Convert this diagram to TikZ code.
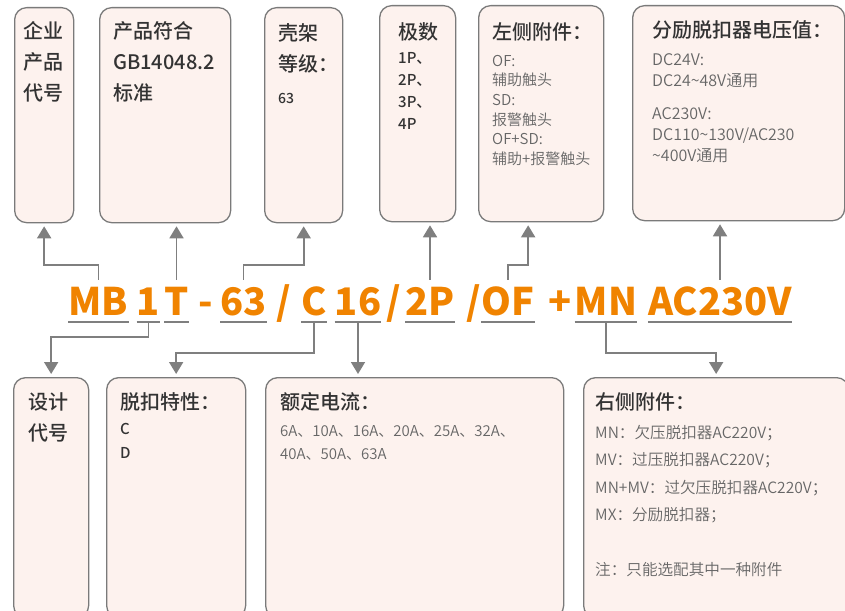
\documentclass[tikz,border=0pt]{standalone}
\usepackage{fontspec}
\setmainfont{Noto Sans CJK SC}[BoldFont={Noto Sans CJK SC Medium}]
\newfontfamily\codefont{Noto Sans CJK SC}
\newfontfamily\lightfont{Noto Sans CJK SC DemiLight}
\usetikzlibrary{arrows.meta}
\definecolor{boxfill}{HTML}{FDF2EE}
\definecolor{boxline}{HTML}{7A7A7A}
\definecolor{linegray}{HTML}{7F7F7F}
\definecolor{titlecol}{HTML}{333333}
\definecolor{detailcol}{HTML}{666666}
\definecolor{codeorange}{HTML}{F08300}
\tikzset{
  box/.style={draw=boxline, fill=boxfill, rounded corners=12pt, line width=1.3pt, anchor=north west, inner sep=0},
  title/.style={anchor=north west, inner sep=0, align=left, text=titlecol, font=\bfseries\fontsize{20}{31}\selectfont},
  detail/.style={anchor=north west, inner sep=0, align=left, text=detailcol, font=\lightfont\fontsize{15}{20}\selectfont},
  darkdetail/.style={anchor=north west, inner sep=0, align=left, text=titlecol},
  code/.style={anchor=base, inner sep=0, text height=35pt, text depth=7pt, text=codeorange, font=\codefont\bfseries\fontsize{38}{38}\selectfont},
  uline/.style={draw=linegray, line width=1.5pt},
  conn/.style={draw=linegray, line width=1.8pt, shorten >=3pt, -{Triangle[length=12pt,width=14pt]}},
}
\begin{document}
\begin{tikzpicture}[x=1pt, y=-1pt]
\useasboundingbox (0,0) rectangle (845,610);
\clip (0,0) rectangle (845,610);

% top boxes
\node[box, minimum width=59pt, minimum height=215pt] (qiye) at (14,7) {};
\node[box, minimum width=131pt, minimum height=215pt] (gb) at (99,7) {};
\node[box, minimum width=78pt, minimum height=215pt] (kejia) at (264,7) {};
\node[box, minimum width=76pt, minimum height=216pt] (jishu) at (379,5) {};
\node[box, minimum width=125pt, minimum height=216pt] (zuoce) at (478,5) {};
\node[box, minimum width=212pt, minimum height=215pt] (fenli) at (632,5) {};

\node[title] (qiyet) at (23,21) {企业\\产品\\代号};
\node[title] (gbt) at (113,21) {产品符合\\GB14048.2\\标准};
\node[title] (kejiat) at (278,23) {壳架\\等级：};
\node[darkdetail, font=\bfseries\fontsize{14}{20}\selectfont] (kejiad) at (278,93) {63};
\node[title] (jishut) at (398,22) {极数};
\node[darkdetail, font=\bfseries\fontsize{15}{22}\selectfont] (jishud) at (398,52) {1P、\\2P、\\3P、\\4P};
\node[title] (zuocet) at (492,22) {左侧附件：};
\node[detail, font=\lightfont\fontsize{15}{19.6}\selectfont] (zuoced) at (492,55) {OF:\\辅助触头\\SD:\\报警触头\\OF+SD:\\辅助+报警触头};
\node[title] (fenlit) at (652,20) {分励脱扣器电压值：};
\node[detail, font=\lightfont\fontsize{16}{21}\selectfont] (fenlid) at (652,53) {DC24V:\\DC24\textasciitilde 48V通用\\[12pt]AC230V:\\DC110\textasciitilde 130V/AC230\\\textasciitilde 400V通用};

% bottom boxes
\node[box, minimum width=75pt, minimum height=240pt] (sheji) at (13,377) {};
\node[box, minimum width=139pt, minimum height=240pt] (tuokou) at (106,377) {};
\node[box, minimum width=298pt, minimum height=240pt] (eding) at (265,377) {};
\node[box, minimum width=265pt, minimum height=240pt] (youce) at (583,377) {};

\node[title] (shejit) at (28,392) {设计\\代号};
\node[title] (tuokout) at (120,392) {脱扣特性：};
\node[darkdetail, font=\bfseries\fontsize{15}{24}\selectfont] (tuokoud) at (120,423) {C\\D};
\node[title] (edingt) at (280,392) {额定电流：};
\node[detail, font=\lightfont\fontsize{15}{23}\selectfont] (edingd) at (280,425) {6A、10A、16A、20A、25A、32A、\\40A、50A、63A};
\node[title] (youcet) at (595,392) {右侧附件：};
\node[detail, font=\lightfont\fontsize{15.6}{27.5}\selectfont] (youced) at (595,425) {MN：欠压脱扣器AC220V；\\MV：过压脱扣器AC220V；\\MN+MV：过欠压脱扣器AC220V；\\MX：分励脱扣器；\\[27.5pt]注：只能选配其中一种附件};

% model code
\node[code] (mb) at (98.5,315) {MB};
\node[code] (n1) at (148.5,315) {1};
\node[code] (t) at (176.5,315) {T};
\node[code] (dash) at (206,315) {-};
\node[code] (n63) at (243.5,315) {63};
\node[code] (sa) at (283.5,315) {/};
\node[code] (c) at (314,315) {C};
\node[code] (n16) at (358,315) {16};
\node[code] (sb) at (393.5,315) {/};
\node[code] (p2) at (430,315) {2P};
\node[code] (sc) at (473.5,315) {/};
\node[code] (of) at (508,315) {OF};
\node[code] (plus) at (560,315) {+};
\node[code] (mn) at (606,315) {MN};
\node[code] (ac) at (720,315) {AC230V};
\foreach \n in {mb,n1,t,n63,c,n16,p2,of,mn,ac}
  \draw[uline] (\n.south west) -- (\n.south east);

% connectors up
\draw[conn] (mb.north) -- ++(0,-15) -| (qiye.south);
\draw[conn] (t.north) -- (t.north |- gb.south);
\draw[conn] (n63.north) -- ++(0,-15) -| (kejia.south);
\draw[conn] (p2.north) -- (p2.north |- jishu.south);
\draw[conn] (of.north) -- ++(0,-15) -| ([xshift=-13pt]zuoce.south);
\draw[conn] (ac.north) -- (ac.north |- fenli.south);

% connectors down
\draw[conn] (n1.south) -- ++(0,15) -| (sheji.north);
\draw[conn] (c.south) -- ++(0,31) -| (tuokou.north);
\draw[conn] (n16.south) -- (n16.south |- eding.north);
\draw[conn] (mn.south) -- ++(0,31) -| (youce.north);
\end{tikzpicture}
\end{document}
